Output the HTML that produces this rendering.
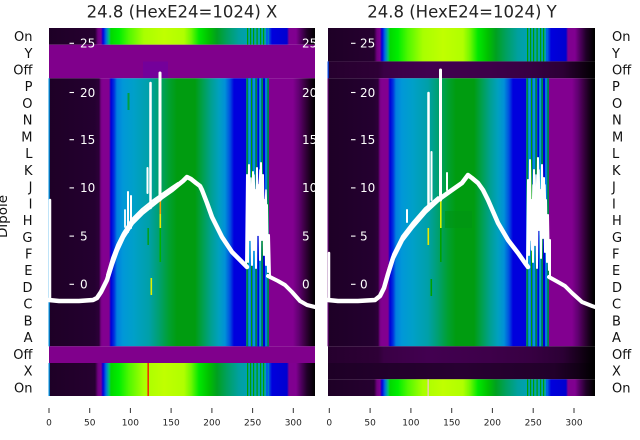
<!DOCTYPE html>
<html><head><meta charset="utf-8">
<style>
html,body{margin:0;padding:0;background:#fff;width:640px;height:440px;overflow:hidden}
svg{display:block}
</style></head><body>
<svg width="640" height="440" viewBox="0 0 640 440" xmlns="http://www.w3.org/2000/svg" font-family="'DejaVu Sans','Liberation Sans',sans-serif">
<defs>
<linearGradient id="gMain" gradientUnits="userSpaceOnUse" x1="0" y1="0" x2="266" y2="0">
<stop offset="0" stop-color="#1e0026"/>
<stop offset="0.1692" stop-color="#240030"/>
<stop offset="0.188" stop-color="#2c0038"/>
<stop offset="0.1955" stop-color="#780086"/>
<stop offset="0.203" stop-color="#820090"/>
<stop offset="0.2256" stop-color="#820090"/>
<stop offset="0.2331" stop-color="#0000d8"/>
<stop offset="0.2444" stop-color="#0030e0"/>
<stop offset="0.2556" stop-color="#0080e0"/>
<stop offset="0.2782" stop-color="#0098d8"/>
<stop offset="0.3195" stop-color="#00a0c8"/>
<stop offset="0.3759" stop-color="#00a0a8"/>
<stop offset="0.4135" stop-color="#00a070"/>
<stop offset="0.4511" stop-color="#00a030"/>
<stop offset="0.4812" stop-color="#009c10"/>
<stop offset="0.5489" stop-color="#009c10"/>
<stop offset="0.5789" stop-color="#00a050"/>
<stop offset="0.609" stop-color="#00a090"/>
<stop offset="0.6391" stop-color="#00a0c0"/>
<stop offset="0.6617" stop-color="#0090d8"/>
<stop offset="0.6805" stop-color="#0050e0"/>
<stop offset="0.6955" stop-color="#0000dd"/>
<stop offset="0.8233" stop-color="#0000dd"/>
<stop offset="0.8271" stop-color="#820090"/>
<stop offset="0.9173" stop-color="#820090"/>
<stop offset="0.9398" stop-color="#600070"/>
<stop offset="0.9624" stop-color="#38003f"/>
<stop offset="0.9812" stop-color="#18001c"/>
<stop offset="1" stop-color="#000000"/>
</linearGradient>
<linearGradient id="gBright" gradientUnits="userSpaceOnUse" x1="0" y1="0" x2="266" y2="0">
<stop offset="0" stop-color="#1e0026"/>
<stop offset="0.1729" stop-color="#260030"/>
<stop offset="0.1842" stop-color="#700080"/>
<stop offset="0.1955" stop-color="#800090"/>
<stop offset="0.203" stop-color="#0000dd"/>
<stop offset="0.2143" stop-color="#0070e0"/>
<stop offset="0.2256" stop-color="#00c080"/>
<stop offset="0.2331" stop-color="#00d800"/>
<stop offset="0.2632" stop-color="#00ee00"/>
<stop offset="0.3008" stop-color="#50f800"/>
<stop offset="0.3571" stop-color="#a8ff00"/>
<stop offset="0.4323" stop-color="#c0ff00"/>
<stop offset="0.5075" stop-color="#b0ff00"/>
<stop offset="0.5338" stop-color="#70f800"/>
<stop offset="0.5639" stop-color="#00e800"/>
<stop offset="0.6015" stop-color="#00c000"/>
<stop offset="0.6316" stop-color="#00a020"/>
<stop offset="0.6692" stop-color="#00a060"/>
<stop offset="0.7143" stop-color="#00a0a0"/>
<stop offset="0.7444" stop-color="#00a0b0"/>
<stop offset="0.8233" stop-color="#00a0b0"/>
<stop offset="0.8271" stop-color="#0050e0"/>
<stop offset="0.8383" stop-color="#0000dd"/>
<stop offset="0.8947" stop-color="#0000d0"/>
<stop offset="0.9023" stop-color="#800090"/>
<stop offset="0.9286" stop-color="#800090"/>
<stop offset="0.9474" stop-color="#500060"/>
<stop offset="0.9699" stop-color="#200028"/>
<stop offset="1" stop-color="#000000"/>
</linearGradient>
<linearGradient id="gDarkA" gradientUnits="userSpaceOnUse" x1="0" y1="0" x2="266" y2="0">
<stop offset="0" stop-color="#26002e"/>
<stop offset="0.188" stop-color="#2e0036"/>
<stop offset="0.2105" stop-color="#3a0045"/>
<stop offset="0.376" stop-color="#420050"/>
<stop offset="0.6015" stop-color="#3e004a"/>
<stop offset="0.7519" stop-color="#380043"/>
<stop offset="0.8835" stop-color="#2c0035"/>
<stop offset="0.9398" stop-color="#18001c"/>
<stop offset="1" stop-color="#000000"/>
</linearGradient>
<linearGradient id="gDarkB" gradientUnits="userSpaceOnUse" x1="0" y1="0" x2="266" y2="0">
<stop offset="0" stop-color="#1e0026"/>
<stop offset="0.5" stop-color="#280032"/>
<stop offset="0.85" stop-color="#22002a"/>
<stop offset="0.94" stop-color="#120016"/>
<stop offset="1" stop-color="#000000"/>
</linearGradient>
</defs>

<!-- Titles -->
<text x="182" y="17.5" font-size="16.5" text-anchor="middle" fill="#222">24.8 (HexE24=1024) X</text>
<text x="462" y="17.5" font-size="16.5" text-anchor="middle" fill="#222">24.8 (HexE24=1024) Y</text>

<!-- LEFT PANEL -->
<g transform="translate(49,0)">
  <rect x="0" y="28" width="266" height="16.7" fill="url(#gBright)"/>
  <rect x="0" y="44.7" width="266" height="33.6" fill="#80008c"/>
  <rect x="0" y="78.3" width="266" height="268" fill="url(#gMain)"/>
  <rect x="0" y="346.3" width="266" height="16.7" fill="#80008c"/>
  <rect x="0" y="363" width="266" height="33" fill="url(#gBright)"/>
  <g>
    <rect x="197" y="78.3" width="23" height="268" fill="#0058e0"/>
    <rect x="197.5" y="78.3" width="1.2" height="268" fill="#00a000"/>
    <rect x="199.5" y="78.3" width="2" height="268" fill="#00a0d8"/>
    <rect x="202" y="78.3" width="1.2" height="268" fill="#00a000"/>
    <rect x="204" y="78.3" width="2" height="268" fill="#0090e0"/>
    <rect x="206.5" y="78.3" width="1.2" height="268" fill="#00a000"/>
    <rect x="208.5" y="78.3" width="1.5" height="268" fill="#0000d8"/>
    <rect x="210.5" y="78.3" width="1.5" height="268" fill="#00a0d8"/>
    <rect x="212.5" y="78.3" width="1.2" height="268" fill="#00a000"/>
    <rect x="214" y="78.3" width="2" height="268" fill="#0000d0"/>
    <rect x="216.5" y="78.3" width="1.2" height="268" fill="#0090e0"/>
    <rect x="218.5" y="78.3" width="1.2" height="268" fill="#00a000"/>
  </g>
  <g fill="#00a000">
    <rect x="198" y="28" width="1.2" height="16.7"/>
    <rect x="201" y="28" width="1.2" height="16.7"/>
    <rect x="204" y="28" width="1.2" height="16.7"/>
    <rect x="207.5" y="28" width="1.2" height="16.7"/>
    <rect x="211" y="28" width="1.2" height="16.7"/>
    <rect x="214" y="28" width="1.2" height="16.7"/>
    <rect x="217" y="28" width="2" height="16.7" fill="#0060e0"/>
    <rect x="198" y="363" width="1.2" height="33"/>
    <rect x="201" y="363" width="1.2" height="33"/>
    <rect x="204" y="363" width="1.2" height="33"/>
    <rect x="207.5" y="363" width="1.2" height="33"/>
    <rect x="211" y="363" width="1.2" height="33"/>
    <rect x="214" y="363" width="1.2" height="33"/>
    <rect x="217" y="363" width="2" height="33" fill="#0060e0"/>
  </g>
  <rect x="-0.5" y="78.3" width="1.3" height="268" fill="#0090e0"/>
  <rect x="-0.5" y="363" width="1.3" height="33" fill="#0090e0"/>
  <rect x="94" y="61.5" width="25" height="16.5" fill="#74009a"/>
  <rect x="110.5" y="200" width="1.6" height="14" fill="#f0a000"/>
  <rect x="110.5" y="214" width="1.6" height="14" fill="#e8e800"/>
  <rect x="110.5" y="228" width="1.6" height="34" fill="#00b000"/>
  <rect x="98.5" y="228" width="1.3" height="17" fill="#00a000"/>
  <rect x="101.5" y="278" width="1.6" height="17" fill="#e0f000"/>
  <rect x="98.5" y="363" width="1.3" height="33" fill="#ff0000"/>
  <rect x="78.5" y="93" width="2" height="17" fill="#00a040"/>
  <g fill="none" stroke="#fff" stroke-linejoin="round" stroke-linecap="round">
    <path stroke-width="4.5" d="M0,300 L10,301 L30,301 L44,300 L48,298 L52,292 L55,286 L58,280 L63,264 L68,250 L74,237 L83,223 L93,213 L103,205 L113,197 L123,190 L129,185 L134,181 L138,177 L142,179 L147,183 L151,186 L153,190 L158,203 L163,217 L173,237 L183,252 L193,262 L198,267"/>
    <path stroke-width="2" d="M58,275 L63,258 L68,245 L74,233 L83,219 L93,209 L103,201 L113,194 L123,187 L129,183"/>
    <path stroke-width="4" d="M219,276 L223,278 L229,281 L236,285 L243,292 L251,301 L258,305 L266,307"/>
    <path stroke-width="2.5" d="M1,200 L1,300"/>
    <path stroke-width="2" d="M197,267 L198,175 L199,262 L200,165 L201,240 L202,200 L203,265 L204,172 L205,250 L206,190 L207,268 L208,168 L209,235 L210,185 L211,260 L212,163 L213,240 L214,175 L215,255 L216,200 L217,265 L218,205 L219,272 L220,235 L221,276"/>
    <path stroke-width="1.5" d="M197.5,220 L199,180 L200.5,230 L202,178 L203.5,215 L205,175 L206.5,225 L208,172 L209.5,210 L211,170 L212.5,228 L214,185 L215.5,222 L217,190 L218.5,245"/>
    <path stroke-width="2.5" d="M101.5,208 L101.5,83"/>
    <path stroke-width="3" d="M111,200 L111,73"/>
    <path stroke-width="2" d="M98.5,193 L98.5,168"/>
    <path stroke-width="2" d="M79,232 L79,192"/>
    <path stroke-width="2" d="M82,228 L82,196"/>
    <path stroke-width="1.8" d="M76,227 L76,210"/>
  </g>
</g>

<!-- RIGHT PANEL -->
<g transform="translate(328,0)">
  <rect x="0" y="28" width="267" height="33.4" fill="url(#gBright)"/>
  <rect x="0" y="61.4" width="267" height="16.9" fill="url(#gDarkA)"/>
  <rect x="0" y="78.3" width="267" height="268" fill="url(#gMain)"/>
  <rect x="0" y="346.3" width="267" height="16.7" fill="url(#gDarkA)"/>
  <rect x="0" y="363" width="267" height="16.3" fill="url(#gDarkB)"/>
  <rect x="0" y="379.3" width="267" height="16.7" fill="url(#gBright)"/>
  <g>
    <rect x="198" y="78.3" width="23" height="268" fill="#0058e0"/>
    <rect x="198.5" y="78.3" width="1.2" height="268" fill="#00a000"/>
    <rect x="200.5" y="78.3" width="2" height="268" fill="#00a0d8"/>
    <rect x="203" y="78.3" width="1.2" height="268" fill="#00a000"/>
    <rect x="205" y="78.3" width="2" height="268" fill="#0090e0"/>
    <rect x="207.5" y="78.3" width="1.2" height="268" fill="#00a000"/>
    <rect x="209.5" y="78.3" width="1.5" height="268" fill="#0000d8"/>
    <rect x="211.5" y="78.3" width="1.5" height="268" fill="#00a0d8"/>
    <rect x="213.5" y="78.3" width="1.2" height="268" fill="#00a000"/>
    <rect x="215" y="78.3" width="2" height="268" fill="#0000d0"/>
    <rect x="217.5" y="78.3" width="1.2" height="268" fill="#0090e0"/>
    <rect x="219.5" y="78.3" width="1.2" height="268" fill="#00a000"/>
  </g>
  <g fill="#00a000">
    <rect x="199" y="28" width="1.2" height="33.4"/>
    <rect x="202" y="28" width="1.2" height="33.4"/>
    <rect x="205" y="28" width="1.2" height="33.4"/>
    <rect x="208.5" y="28" width="1.2" height="33.4"/>
    <rect x="212" y="28" width="1.2" height="33.4"/>
    <rect x="215" y="28" width="1.2" height="33.4"/>
    <rect x="218" y="28" width="2" height="33.4" fill="#0060e0"/>
    <rect x="199" y="379.3" width="1.2" height="16.7"/>
    <rect x="202" y="379.3" width="1.2" height="16.7"/>
    <rect x="205" y="379.3" width="1.2" height="16.7"/>
    <rect x="208.5" y="379.3" width="1.2" height="16.7"/>
    <rect x="212" y="379.3" width="1.2" height="16.7"/>
    <rect x="215" y="379.3" width="1.2" height="16.7"/>
    <rect x="218" y="379.3" width="2" height="16.7" fill="#0060e0"/>
  </g>
  <rect x="-0.5" y="61.4" width="1.3" height="17" fill="#0040e0"/>
  <rect x="-0.5" y="78.3" width="1.2" height="268" fill="#600070"/>
  <rect x="99.5" y="228" width="1.6" height="17" fill="#e8e800"/>
  <rect x="112" y="200" width="1.6" height="28" fill="#d8f000"/>
  <rect x="112" y="228" width="1.6" height="34" fill="#00a000"/>
  <rect x="102.5" y="279" width="1.6" height="17" fill="#00a000"/>
  <rect x="99.5" y="379.3" width="1.3" height="16.7" fill="#f0c8c8"/>
  <rect x="117" y="211" width="27" height="17" fill="#009414" opacity="0.6"/>
  <g fill="none" stroke="#fff" stroke-linejoin="round" stroke-linecap="round">
    <path stroke-width="4.5" d="M0,300 L10,301 L30,301 L47,300 L52,296 L56,288 L60,274 L65,258 L74,240 L84,227 L97,212 L110,200 L124,190 L134,183 L140,175 L144,178 L150,183 L155,190 L160,200 L170,223 L180,240 L190,253 L197,263 L200,267"/>
    <path stroke-width="1.8" d="M60,270 L65,254 L74,236 L84,223 L97,208 L110,197"/>
    <path stroke-width="4" d="M221,277 L230,282 L237,286 L244,293 L254,302 L264,306 L267,307"/>
    <path stroke-width="2.5" d="M1,253 L1,300"/>
    <path stroke-width="2" d="M199,266 L200,180 L201,255 L202,160 L203,240 L204,200 L205,262 L206,170 L207,245 L208,195 L209,268 L210,158 L211,230 L212,190 L213,258 L214,165 L215,238 L216,178 L217,252 L218,200 L219,262 L220,215 L221,270 L222,240 L222,277"/>
    <path stroke-width="1.4" d="M200.5,230 L202,190 L203.5,250 L205,185 L206.5,235 L208,175 L209.5,222 L211,170 L212.5,235 L214,190 L215.5,225 L217,185 L218.5,240"/>
    <path stroke-width="2.5" d="M100.5,210 L100.5,93"/>
    <path stroke-width="3" d="M112.5,200 L112.5,70"/>
    <path stroke-width="2" d="M103.5,200 L103.5,152"/>
    <path stroke-width="2" d="M119,190 L119,173"/>
    <path stroke-width="2" d="M79,222 L79,210"/>
  </g>
</g>

<!-- white in-plot tick labels -->
<g fill="#fff" font-size="12">
  <g stroke="#fff" stroke-width="1.1">
    <line x1="69.5" y1="43.3" x2="74" y2="43.3"/>
    <line x1="69.5" y1="92.5" x2="74" y2="92.5"/>
    <line x1="69.5" y1="139.7" x2="74" y2="139.7"/>
    <line x1="69.5" y1="187.9" x2="74" y2="187.9"/>
    <line x1="69.5" y1="236.1" x2="74" y2="236.1"/>
    <line x1="69.5" y1="284.3" x2="74" y2="284.3"/>
    <line x1="351" y1="43.3" x2="355.5" y2="43.3"/>
    <line x1="351" y1="92.5" x2="355.5" y2="92.5"/>
    <line x1="351" y1="139.7" x2="355.5" y2="139.7"/>
    <line x1="351" y1="187.9" x2="355.5" y2="187.9"/>
    <line x1="351" y1="236.1" x2="355.5" y2="236.1"/>
    <line x1="351" y1="284.3" x2="355.5" y2="284.3"/>
  </g>
  <text x="80" y="47.6">25</text>
  <text x="80" y="96.8">20</text>
  <text x="80" y="144">15</text>
  <text x="80" y="192.2">10</text>
  <text x="80" y="240.4">5</text>
  <text x="80" y="288.6">0</text>
  <text x="360" y="47.6">25</text>
  <text x="360" y="96.8">20</text>
  <text x="360" y="144">15</text>
  <text x="360" y="192.2">10</text>
  <text x="360" y="240.4">5</text>
  <text x="360" y="288.6">0</text>
  <text x="302" y="47.6">25</text>
  <text x="302" y="96.8">20</text>
  <text x="302" y="144">15</text>
  <text x="302" y="192.2">10</text>
  <text x="302" y="240.4">5</text>
  <text x="302" y="288.6">0</text>
</g>

<!-- row labels -->
<g font-size="13" fill="#111" text-anchor="end">
  <text x="32.5" y="41.1">On</text>
  <text x="32.5" y="57.8">Y</text>
  <text x="32.5" y="74.5">Off</text>
  <text x="32.5" y="91.2">P</text>
  <text x="32.5" y="108">O</text>
  <text x="32.5" y="124.7">N</text>
  <text x="32.5" y="141.4">M</text>
  <text x="32.5" y="158.2">L</text>
  <text x="32.5" y="174.9">K</text>
  <text x="32.5" y="191.6">J</text>
  <text x="32.5" y="208.3">I</text>
  <text x="32.5" y="225.1">H</text>
  <text x="32.5" y="241.8">G</text>
  <text x="32.5" y="258.5">F</text>
  <text x="32.5" y="275.2">E</text>
  <text x="32.5" y="292">D</text>
  <text x="32.5" y="308.7">C</text>
  <text x="32.5" y="325.4">B</text>
  <text x="32.5" y="342.2">A</text>
  <text x="32.5" y="358.9">Off</text>
  <text x="32.5" y="375.6">X</text>
  <text x="32.5" y="392.3">On</text>
</g>
<g font-size="13" fill="#111">
  <text x="612" y="41.1">On</text>
  <text x="612" y="57.8">Y</text>
  <text x="612" y="74.5">Off</text>
  <text x="612" y="91.2">P</text>
  <text x="612" y="108">O</text>
  <text x="612" y="124.7">N</text>
  <text x="612" y="141.4">M</text>
  <text x="612" y="158.2">L</text>
  <text x="612" y="174.9">K</text>
  <text x="612" y="191.6">J</text>
  <text x="612" y="208.3">I</text>
  <text x="612" y="225.1">H</text>
  <text x="612" y="241.8">G</text>
  <text x="612" y="258.5">F</text>
  <text x="612" y="275.2">E</text>
  <text x="612" y="292">D</text>
  <text x="612" y="308.7">C</text>
  <text x="612" y="325.4">B</text>
  <text x="612" y="342.2">A</text>
  <text x="612" y="358.9">Off</text>
  <text x="612" y="375.6">X</text>
  <text x="612" y="392.3">On</text>
</g>

<text transform="translate(7,216.5) rotate(-90)" font-size="13.5" text-anchor="middle" fill="#111">Dipole</text>

<g stroke="#333" stroke-width="1">
  <line x1="49" y1="408" x2="49" y2="413"/>
  <line x1="89.7" y1="408" x2="89.7" y2="413"/>
  <line x1="130.4" y1="408" x2="130.4" y2="413"/>
  <line x1="171.1" y1="408" x2="171.1" y2="413"/>
  <line x1="211.9" y1="408" x2="211.9" y2="413"/>
  <line x1="252.6" y1="408" x2="252.6" y2="413"/>
  <line x1="293.3" y1="408" x2="293.3" y2="413"/>
  <line x1="329.3" y1="408" x2="329.3" y2="413"/>
  <line x1="370.1" y1="408" x2="370.1" y2="413"/>
  <line x1="410.9" y1="408" x2="410.9" y2="413"/>
  <line x1="451.7" y1="408" x2="451.7" y2="413"/>
  <line x1="492.4" y1="408" x2="492.4" y2="413"/>
  <line x1="533.2" y1="408" x2="533.2" y2="413"/>
  <line x1="574" y1="408" x2="574" y2="413"/>
</g>
<g font-size="9" fill="#222" text-anchor="middle">
  <text x="49" y="425.5">0</text>
  <text x="89.7" y="425.5">50</text>
  <text x="130.4" y="425.5">100</text>
  <text x="171.1" y="425.5">150</text>
  <text x="211.9" y="425.5">200</text>
  <text x="252.6" y="425.5">250</text>
  <text x="293.3" y="425.5">300</text>
  <text x="329.3" y="425.5">0</text>
  <text x="370.1" y="425.5">50</text>
  <text x="410.9" y="425.5">100</text>
  <text x="451.7" y="425.5">150</text>
  <text x="492.4" y="425.5">200</text>
  <text x="533.2" y="425.5">250</text>
  <text x="574" y="425.5">300</text>
</g>
</svg>
</body></html>
